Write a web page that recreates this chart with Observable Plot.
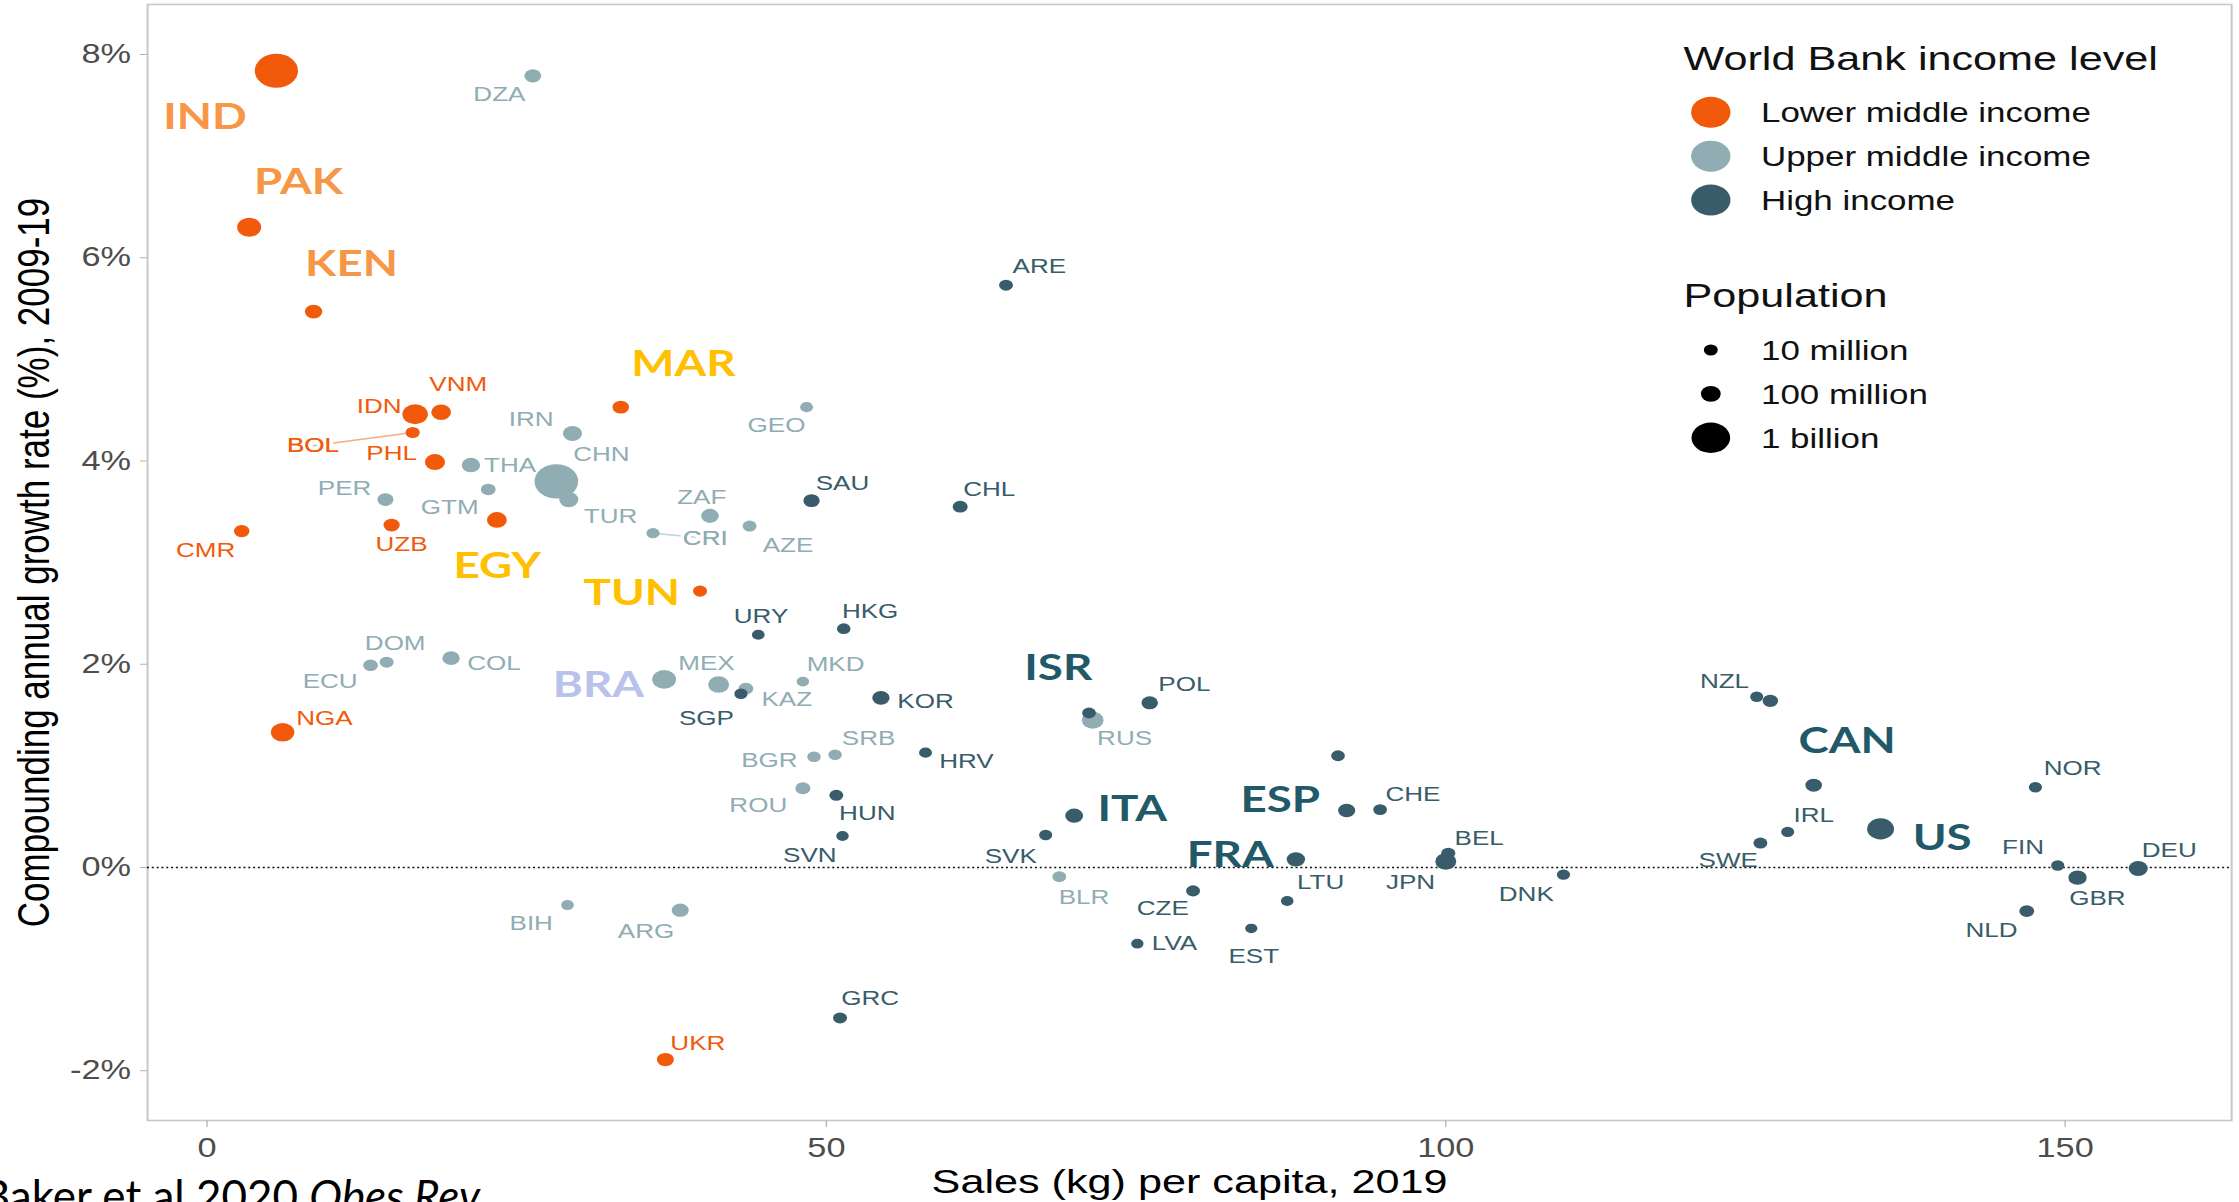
<!DOCTYPE html>
<html>
<head>
<meta charset="utf-8">
<script src="https://cdn.jsdelivr.net/npm/d3@7"></script>
<script src="https://cdn.jsdelivr.net/npm/@observablehq/plot@0.6"></script>
<style>
  html, body { margin: 0; padding: 0; background: #fff; overflow: hidden; }
  #page { position: relative; width: 2239px; height: 1202px; overflow: hidden; background: #fff; }
  #panel { position: absolute; left: 0; top: 0; transform-origin: 0 0; }
  #panel svg { display: block; }
  #source { position: absolute; left: 0; top: 0; }
</style>
</head>
<body>
<div id="page">
  <div id="panel"></div>
  <svg id="source" width="2239" height="1202"></svg>
</div>
<script>
// ---- Data -------------------------------------------------------------
const L = "Lower middle income", U = "Upper middle income", H_ = "High income";
const incomeLevels = [L, U, H_];

const codes = [
  "IND","PAK","KEN","MAR","VNM","IDN","BOL","PHL","CMR","UZB","EGY","TUN","NGA","UKR",
  "DZA","GEO","IRN","THA","CHN","GTM","PER","TUR","ZAF","AZE","CRI","DOM","ECU","COL","BRA",
  "MEX","KAZ","MKD","BGR","SRB","ROU","BIH","ARG","RUS","BLR",
  "ARE","SAU","CHL","URY","HKG","SGP","KOR","ISR","POL","HRV","HUN","SVN","GRC","ITA","ESP",
  "CHE","AUT","SVK","FRA","BEL","JPN","DNK","CZE","LTU","EST","LVA","NZL","AUS","CAN","NOR",
  "IRL","SWE","USA","FIN","GBR","DEU","NLD"
];
// Sales (kg) per capita, 2019
const sales = [
  5.6, 3.4, 8.6, 33.4, 18.9, 16.8, 16.6, 18.4, 2.8, 14.9, 23.4, 39.8, 6.1, 37.0,
  26.3, 48.4, 29.5, 21.3, 28.2, 22.7, 14.4, 29.2, 40.6, 43.8, 36.0, 14.5, 13.2, 19.7, 36.9,
  41.3, 43.5, 48.1, 49.0, 50.7, 48.1, 29.1, 38.2, 71.5, 68.8,
  64.5, 48.8, 60.8, 44.5, 51.4, 43.1, 54.4, 71.2, 76.1, 58.0, 50.8, 51.3, 51.1, 70.0, 92.0,
  94.7, 91.3, 67.7, 87.9, 100.2, 100.0, 109.5, 79.6, 87.2, 84.3, 75.1, 125.1, 126.2, 129.7, 147.6,
  127.6, 125.4, 135.1, 149.4, 151.0, 155.9, 146.9
];
// Compounding annual growth rate (%), 2009-19
const growth = [
  7.84, 6.30, 5.47, 4.53, 4.48, 4.46, 4.28, 3.99, 3.31, 3.37, 3.42, 2.72, 1.33, -1.89,
  7.79, 4.53, 4.27, 3.96, 3.80, 3.72, 3.62, 3.62, 3.46, 3.36, 3.29, 2.02, 1.99, 2.06, 1.85,
  1.80, 1.76, 1.83, 1.09, 1.11, 0.78, -0.37, -0.42, 1.45, -0.09,
  5.73, 3.61, 3.55, 2.29, 2.35, 1.71, 1.67, 1.52, 1.62, 1.13, 0.71, 0.31, -1.48, 0.51, 0.56,
  0.57, 1.10, 0.32, 0.08, 0.14, 0.06, -0.07, -0.23, -0.33, -0.60, -0.75, 1.68, 1.64, 0.81, 0.79,
  0.35, 0.24, 0.38, 0.02, -0.10, -0.01, -0.43
];
// Population, millions
const population = [
  1366, 217, 52.6, 36.5, 96.5, 270.6, 11.5, 108.1, 25.9, 33.6, 100.4, 11.7, 201, 44.4,
  43.1, 3.7, 82.9, 69.6, 1398, 16.6, 32.5, 83.4, 58.6, 10.0, 5.0, 10.7, 17.4, 50.3, 211,
  127.6, 18.5, 2.1, 7.0, 6.9, 19.4, 3.3, 44.9, 144.4, 9.4,
  9.8, 34.3, 19.0, 3.5, 7.5, 5.7, 51.7, 9.1, 38.0, 4.1, 9.8, 2.1, 10.7, 60.3, 47.1,
  8.6, 8.9, 5.5, 67.1, 11.5, 126.3, 5.8, 10.7, 2.8, 1.3, 1.9, 4.9, 25.4, 37.6, 5.3,
  4.9, 10.3, 328.2, 5.5, 66.8, 83.1, 17.3
];
const income = [
  L, L, L, L, L, L, L, L, L, L, L, L, L, L,
  U, U, U, U, U, U, U, U, U, U, U, U, U, U, U,
  U, U, U, U, U, U, U, U, U, U,
  H_, H_, H_, H_, H_, H_, H_, H_, H_, H_, H_, H_, H_, H_, H_,
  H_, H_, H_, H_, H_, H_, H_, H_, H_, H_, H_, H_, H_, H_, H_,
  H_, H_, H_, H_, H_, H_, H_
];

// Country code labels and where they sit (data units)
const labelCodes = [
  "DZA","VNM","IDN","IRN","GEO","BOL","PHL","CHN","THA","PER","SAU","ZAF","GTM","TUR","CRI",
  "AZE","CMR","UZB","URY","HKG","DOM","COL","ECU","MEX","MKD","KAZ","SGP","NGA","SRB","BGR",
  "ROU","HUN","SVN","BIH","ARG","GRC","UKR","ARE","CHL","POL","KOR","RUS","HRV","CHE","BEL",
  "SVK","LTU","JPN","BLR","DNK","CZE","LVA","EST","NZL","NOR","IRL","FIN","DEU","SWE","GBR","NLD"
];
const labelX = [
  23.6, 20.28, 13.89, 26.17, 45.97, 8.55, 14.9, 31.83, 24.46, 11.1, 51.3, 39.94, 19.59, 32.57, 40.22,
  46.9, -0.12, 15.7, 44.72, 53.53, 15.19, 23.16, 9.94, 40.32, 50.74, 46.8, 40.32, 9.48, 53.4, 45.4,
  44.5, 53.3, 48.66, 26.17, 35.44, 53.53, 39.62, 67.19, 63.15, 78.9, 58.0, 74.07, 61.3, 97.35, 102.7,
  64.88, 89.9, 97.15, 70.8, 106.5, 77.16, 78.1, 84.5, 122.5, 150.6, 129.7, 146.6, 158.4, 122.8, 152.6, 144.06
];
const labelY = [
  7.61, 4.75, 4.54, 4.41, 4.35, 4.15, 4.07, 4.06, 3.96, 3.73, 3.78, 3.645, 3.54, 3.45, 3.24,
  3.17, 3.12, 3.18, 2.47, 2.52, 2.20, 2.01, 1.83, 2.01, 2.00, 1.65, 1.47, 1.47, 1.27, 1.05,
  0.61, 0.53, 0.12, -0.555, -0.625, -1.29, -1.73, 5.91, 3.72, 1.80, 1.63, 1.27, 1.04, 0.72, 0.29,
  0.11, -0.15, -0.15, -0.29, -0.27, -0.40, -0.75, -0.875, 1.83, 0.97, 0.51, 0.20, 0.17, 0.066, -0.30, -0.62
];
// labels joined to their point by a leader line
const leaderCodes = ["BOL", "CRI"];

// Highlighted country call-outs
const calloutText = ["IND","PAK","KEN","MAR","EGY","TUN","BRA","ISR","ITA","ESP","FRA","CAN","US"];
const calloutX = [-0.16, 7.39, 11.66, 38.46, 23.43, 34.29, 31.6, 68.72, 74.69, 86.64, 82.6, 132.4, 140.07];
const calloutY = [7.38, 6.74, 5.93, 4.95, 2.96, 2.70, 1.79, 1.96, 0.57, 0.66, 0.12, 1.24, 0.285];

const xTicks = [0, 50, 100, 150];
const yTicks = [-2, 0, 2, 4, 6, 8];
const sizeBreaks = [10, 100, 1000];
const sizeBreakLabels = ["10 million", "100 million", "1 billion"];

// ---- Styles -----------------------------------------------------------
const incomeColors = ["#F15A0A", "#90ADB3", "#385C6A"];
const calloutGroups = [
  {codes: ["IND", "PAK", "KEN"], color: "#F79646"},
  {codes: ["MAR", "EGY", "TUN"], color: "#FFC000"},
  {codes: ["BRA"], color: "#B8C2EA"},
  {codes: ["ISR", "ITA", "ESP", "FRA", "CAN", "US"], color: "#215968"}
];
const sans = "'Liberation Sans', Arial, Helvetica, sans-serif";

// ---- Tables -----------------------------------------------------------
const countries = codes.map((code, i) => ({
  code, sales: sales[i], growth: growth[i], pop: population[i], income: income[i]
}));
const byCode = new Map(countries.map(d => [d.code, d]));
const drawOrder = countries.slice().sort((a, b) => b.pop - a.pop);
const labels = labelCodes.map((code, i) => ({
  code, lx: labelX[i], ly: labelY[i], ...byCode.get(code)
}));
const leaders = labels.filter(d => leaderCodes.includes(d.code));
const callouts = calloutText.map((text, i) => ({text, x: calloutX[i], y: calloutY[i]}));

// ---- Chart ------------------------------------------------------------
// The graphic is laid out narrow and widened horizontally as a whole.
const W = 1763, HEIGHT = 1202;
const S = 2239 / W;

const chart = Plot.plot({
  width: W,
  height: HEIGHT,
  marginLeft: 115.7,
  marginRight: 6.3,
  marginTop: 4,
  marginBottom: 82,
  x: {domain: [-4.80, 163.44], label: null},
  y: {domain: [-2.4896, 8.492], label: null},
  r: {type: "sqrt", domain: [0, 1400], range: [4.4, 17.2]},
  color: {domain: incomeLevels, range: incomeColors},
  style: {fontFamily: sans, background: "#fff", fontSize: "27px"},
  marks: [
    Plot.frame({stroke: "#c8c8c8", strokeWidth: 1.6}),
    Plot.ruleY([0], {stroke: "#111", strokeWidth: 1.4, strokeDasharray: "1.6,2.2"}),
    Plot.axisX({ticks: xTicks, tickSize: 7, tickPadding: 10, stroke: "#b3b3b3",
      fill: "#4d4d4d", fontSize: 27, label: null}),
    Plot.axisY({ticks: yTicks, tickSize: 5.5, tickPadding: 7.5, tickFormat: d => `${d}%`,
      stroke: "#b3b3b3", fill: "#4d4d4d", fontSize: 27, label: null}),
    Plot.text(["Sales (kg) per capita, 2019"], {frameAnchor: "bottom", dy: 72,
      textAnchor: "middle", lineAnchor: "bottom", fontSize: 34, fill: "#000"}),
    Plot.text(["Compounding annual growth rate (%), 2009-19"], {frameAnchor: "left",
      dx: -88.8, rotate: -90, textAnchor: "middle", lineAnchor: "middle",
      fontSize: 35, fill: "#000"}),
    Plot.link(leaders, {x1: "sales", y1: "growth", x2: "lx", y2: "ly",
      stroke: "income", strokeOpacity: 0.5, strokeWidth: 1.6}),
    Plot.dot(drawOrder, {x: "sales", y: "growth", r: "pop", fill: "income"}),
    Plot.text(leaders, {x: "lx", y: "ly", text: "code", fill: "income",
      stroke: "#fff", strokeWidth: 6, fontSize: 20.5}),
    Plot.text(labels, {x: "lx", y: "ly", text: "code", fill: "income", fontSize: 20.5}),
    ...calloutGroups.map(g => Plot.text(callouts.filter(d => g.codes.includes(d.text)), {
      x: "x", y: "y", text: "text", fill: g.color, fontSize: 36, fontWeight: 700,
      fontFamily: "Lato, 'Open Sans', sans-serif", ariaLabel: "callouts"
    }))
  ]
});

const panel = document.getElementById("panel");
panel.style.width = W + "px";
panel.style.height = HEIGHT + "px";
panel.style.transform = `scaleX(${S})`;
panel.append(chart);

// Call-outs keep their natural proportions inside the widened panel.
chart.querySelectorAll('g[aria-label="callouts"] text').forEach(t => {
  const tr = t.getAttribute("transform");
  if (tr) {
    t.setAttribute("transform", `${tr} scale(${1 / S},1)`);
  } else {
    const x = +t.getAttribute("x") || 0, y = +t.getAttribute("y") || 0;
    t.setAttribute("transform", `translate(${x},${y}) scale(${1 / S},1) translate(${-x},${-y})`);
  }
});

// ---- Legend (inside the panel, top right) ------------------------------
const colorScale = chart.scale("color");
const rScale = chart.scale("r");
const legend = d3.select(panel).append("svg")
  .attr("width", W).attr("height", HEIGHT)
  .style("position", "absolute").style("left", 0).style("top", 0)
  .attr("font-family", sans).attr("fill", "#111");

const lx0 = 1325.6, keyX = 1347.1, textX = 1386.6, step = 43.85;
legend.append("text").attr("x", lx0).attr("y", 70).attr("font-size", 34)
  .text("World Bank income level");
incomeLevels.forEach((lvl, i) => {
  const cy = 112.3 + i * step;
  legend.append("circle").attr("cx", keyX).attr("cy", cy).attr("r", 15.5)
    .attr("fill", colorScale.apply(lvl));
  legend.append("text").attr("x", textX).attr("y", cy).attr("dy", "0.36em")
    .attr("font-size", 27.5).text(lvl);
});
legend.append("text").attr("x", lx0).attr("y", 306.7).attr("font-size", 34)
  .text("Population");
sizeBreaks.forEach((v, i) => {
  const cy = 350 + i * step;
  legend.append("circle").attr("cx", keyX).attr("cy", cy).attr("r", rScale.apply(v))
    .attr("fill", "#000");
  legend.append("text").attr("x", textX).attr("y", cy).attr("dy", "0.36em")
    .attr("font-size", 27.5).text(sizeBreakLabels[i]);
});

// ---- Source line --------------------------------------------------------
const src = d3.select("#source").append("text")
  .attr("x", 480).attr("y", 1212).attr("text-anchor", "end")
  .attr("font-family", "Lato, 'Open Sans', sans-serif").attr("font-size", 44).attr("fill", "#000");
src.append("tspan").text("Baker et al 2020 ");
src.append("tspan").attr("font-style", "italic").text("Obes Rev");
</script>
</body>
</html>
